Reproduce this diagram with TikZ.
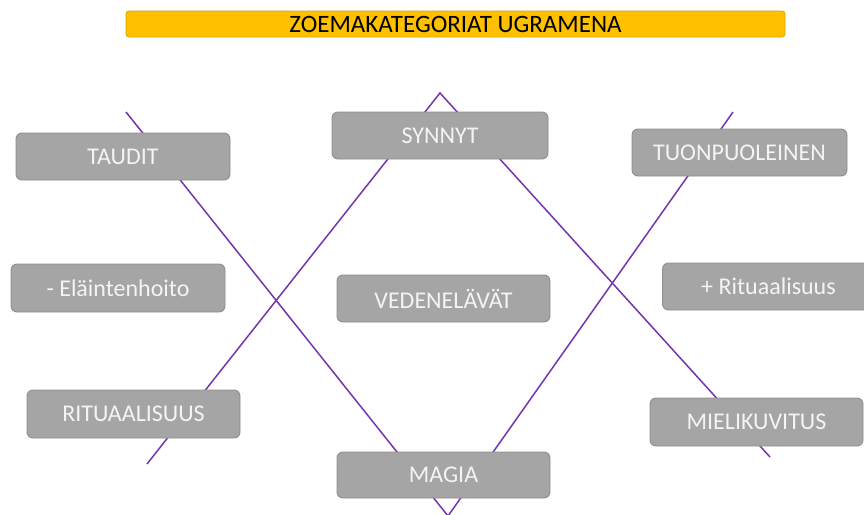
\documentclass[tikz,border=0pt]{standalone}
\usepackage{fontspec}
\setmainfont{Carlito}
\definecolor{boxfill}{HTML}{A5A5A5}
\definecolor{boxedge}{HTML}{8E8E8E}
\definecolor{boxtext}{HTML}{F4F4F4}
\definecolor{gold}{HTML}{FFC000}
\definecolor{goldedge}{HTML}{D9A400}
\definecolor{violet}{HTML}{7535AD}
\begin{document}
\begin{tikzpicture}[x=1pt,y=-1pt,
  catbox/.style={draw=boxedge, line width=0.9pt, fill=boxfill, rounded corners=6pt,
    inner sep=0pt, minimum height=47pt, minimum width=214pt,
    text=boxtext, font=\fontsize{24}{28}\selectfont},
  titlebar/.style={draw=goldedge, line width=0.8pt, fill=gold, rounded corners=3pt,
    inner sep=0pt, minimum width=659pt, minimum height=26pt,
    font=\fontsize{25}{26}\selectfont},
  crossline/.style={draw=violet, line width=1.5pt}]
\useasboundingbox (0,0) rectangle (864,514);
\clip (0,0) rectangle (864,514);
\fill[white] (0,0) rectangle (864,514);

% end points of the two crossing V shapes
\coordinate (apexTop) at (440,93);
\coordinate (apexBot) at (448,516);
\coordinate (topLeftEnd) at (147,464);
\coordinate (topRightEnd) at (770,457);
\coordinate (botLeftEnd) at (126,112);
\coordinate (botRightEnd) at (733,112);

\draw[crossline] (topLeftEnd) -- (apexTop) -- (topRightEnd);
\draw[crossline] (botLeftEnd) -- (apexBot) -- (botRightEnd);

% title
\node[titlebar] (title) at (455.5,24) {\raisebox{-0.5pt}{ZOEMAKATEGORIAT UGRAMENA}};

% category boxes
\node[catbox, minimum width=214pt] (taudit) at (123,156.5) {TAUDIT};
\node[catbox, minimum width=216pt] (synnyt) at (440,135.5) {SYNNYT};
\node[catbox, minimum width=215pt] (tuonpuoleinen) at (739.5,152.5) {TUONPUOLEINEN};
\node[catbox, minimum width=214pt, minimum height=48pt] (elaintenhoito) at (118,288) {- Eläintenhoito};
\node[catbox, minimum width=213pt] (vedenelavat) at (443.5,298.5) {VEDENELÄVÄT};
\node[catbox, minimum width=212pt] (plusritual) at (768.5,286.5) {+ Rituaalisuus};
\node[catbox, minimum width=213pt, minimum height=48pt] (ritual) at (133.5,414) {RITUAALISUUS};
\node[catbox, minimum width=213pt, minimum height=48pt] (mielikuvitus) at (756.5,422) {MIELIKUVITUS};
\node[catbox, minimum width=213pt, minimum height=46pt] (magia) at (443.5,475) {MAGIA};
\end{tikzpicture}
\end{document}
